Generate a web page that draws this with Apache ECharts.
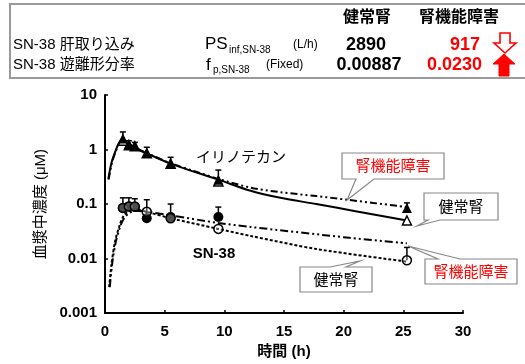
<!DOCTYPE html>
<html><head><meta charset="utf-8">
<script src="https://cdn.jsdelivr.net/npm/echarts@6/dist/echarts.min.js"></script>
<style>html,body{margin:0;padding:0;background:#fff}#c{width:525px;height:364px}</style>
</head><body><div id="c"></div>
<script>
// ---- axis ticks ----
const xTicks = [0, 5, 10, 15, 20, 25, 30];
const yTickLabels = ['0.001', '0.01', '0.1', '1', '10'];

// ---- observed points (h, μM) ----
const obsTimes = [1.5, 2, 2.5, 3.5, 5.5, 9.5, 25.3];
const iriHealthyObs = [1.45, 1.2, 1.15, 0.85, 0.55, 0.26, 0.05];
const iriRenalObs = [1.6, 1.25, 1.17, 0.86, 0.55, 0.28, 0.085];
const iriRenalUpper = [2.1, 1.45, 1.35, 1.1, 0.72, 0.42, 0.105];
const snHealthyObs = [0.085, 0.09, 0.09, 0.072, 0.055, 0.035, 0.0093];
const snHealthyUpper = [null, null, null, null, null, null, 0.016];
const snRenalTimes = [1.5, 2, 2.5, 3.5, 5.5, 9.5];
const snRenalObs = [0.085, 0.09, 0.088, 0.055, 0.058, 0.058];
const snRenalUpper = [0.13, 0.13, 0.125, 0.12, 0.1, 0.088];

// ---- simulated curves ----
const iriHealthyCurveT = [0.28, 0.56, 0.84, 1.12, 1.4, 2, 3, 3.5, 5.5, 7.5, 9.5, 12.2, 14.7, 17.7, 21, 25.3];
const iriHealthyCurveC = [0.29, 0.59, 0.89, 1.26, 1.5, 1.25, 0.95, 0.85, 0.55, 0.39, 0.28, 0.175, 0.13, 0.1, 0.074, 0.05];
const iriRenalCurveT = [0.3, 0.58, 0.86, 1.15, 1.45, 2, 3, 3.5, 5.5, 7.5, 9.5, 12.2, 14.7, 17.7, 20.3, 25.3];
const iriRenalCurveC = [0.28, 0.57, 0.87, 1.22, 1.48, 1.25, 0.96, 0.86, 0.56, 0.4, 0.29, 0.2, 0.165, 0.14, 0.12, 0.088];
const snHealthyCurveT = [0.35, 0.55, 0.85, 1.25, 1.55, 2, 2.5, 3.5, 5.5, 9.5, 12.2, 17.7, 25.3];
const snHealthyCurveC = [0.003, 0.008, 0.021, 0.042, 0.06, 0.075, 0.08, 0.072, 0.055, 0.035, 0.026, 0.015, 0.0088];
const snRenalCurveT = [0.4, 0.6, 0.9, 1.3, 1.6, 2, 2.5, 3.5, 5.5, 9.5, 12.2, 20.5, 25.3];
const snRenalCurveC = [0.003, 0.008, 0.02, 0.04, 0.055, 0.068, 0.075, 0.072, 0.062, 0.045, 0.038, 0.024, 0.019];

const zip = (a, b) => a.map((v, i) => [v, b[i]]);
const zip3 = (a, b, c) => a.map((v, i) => [v, b[i], c[i]]).filter(d => d[2] != null);

const FONT = "'Liberation Sans','Noto Sans CJK JP',sans-serif";
const RED = '#ff0000';

function errBar(params, api) {
  const p0 = api.coord([api.value(0), api.value(1)]);
  const p1 = api.coord([api.value(0), api.value(2)]);
  const st = { stroke: '#000', lineWidth: 1.5 };
  return { type: 'group', children: [
    { type: 'line', shape: { x1: p0[0], y1: p0[1], x2: p1[0], y2: p1[1] }, style: st },
    { type: 'line', shape: { x1: p1[0] - 3, y1: p1[1], x2: p1[0] + 3, y2: p1[1] }, style: st }
  ] };
}

function callout(box, base, tip, text, color) {
  const [x1, y1, x2, y2] = box;
  let pts;
  if (base[2] === 'bottom') {
    pts = [[x1, y1], [x2, y1], [x2, y2], [base[1], y2], tip, [base[0], y2], [x1, y2]];
  } else {
    pts = [[x1, y1], [base[0], y1], tip, [base[1], y1], [x2, y1], [x2, y2], [x1, y2]];
  }
  return [
    { type: 'polygon', z: 50, shape: { points: pts }, style: { fill: '#fff', stroke: '#888', lineWidth: 1.2 } },
    { type: 'text', z: 51, x: (x1 + x2) / 2, y: (y1 + y2) / 2 + 1,
      style: { text: text, fill: color, font: "15px " + FONT, align: 'center', verticalAlign: 'middle' } }
  ];
}

function txt(x, y, text, size, opts) {
  opts = opts || {};
  return { type: 'text', z: 60, x: x, y: y, style: {
    text: text, fill: opts.color || '#000',
    font: (opts.bold ? 'bold ' : '') + size + 'px ' + FONT,
    align: opts.align || 'left', verticalAlign: 'middle' } };
}

const graphics = [
  { type: 'rect', z: 40, shape: { x: 10, y: 4, width: 530, height: 74 }, style: { fill: '#fff', stroke: '#9a9a9a', lineWidth: 2 } },
  txt(367, 18, '健常腎', 16, { bold: true, align: 'center' }),
  txt(459, 18, '腎機能障害', 16, { bold: true, align: 'center' }),
  txt(13, 45, 'SN-38 肝取り込み', 15),
  txt(13, 65, 'SN-38 遊離形分率', 15),
  txt(205, 44, 'PS', 17),
  txt(229, 50, 'inf,SN-38', 10),
  txt(293, 45, '(L/h)', 12),
  txt(206, 65, 'f', 17),
  txt(213, 70, 'p,SN-38', 10),
  txt(266, 65, '(Fixed)', 12),
  txt(366, 45, '2890', 18, { bold: true, align: 'center' }),
  txt(480, 45, '917', 18, { bold: true, align: 'right', color: RED }),
  txt(369, 65, '0.00887', 18, { bold: true, align: 'center' }),
  txt(482, 65, '0.0230', 18, { bold: true, align: 'right', color: RED }),
  { type: 'polygon', z: 60, shape: { points: [[500, 33], [510, 33], [510, 43], [516, 43], [505, 53], [494, 43], [500, 43]] },
    style: { fill: '#fff', stroke: RED, lineWidth: 1.6 } },
  { type: 'polygon', z: 60, shape: { points: [[504, 54], [515, 64], [509, 64], [509, 76], [499, 76], [499, 64], [493, 64]] },
    style: { fill: RED, stroke: RED, lineWidth: 1 } },
  txt(241, 158, 'イリノテカン', 15, { align: 'center' }),
  txt(214, 254, 'SN-38', 15, { bold: true, align: 'center' }),
  ...callout([342, 153, 444, 179], [356, 374, 'bottom'], [347, 200], '腎機能障害', RED),
  ...callout([424, 193, 498, 220], [428, 440, 'bottom'], [417, 226], '健常腎', '#000'),
  ...callout([425, 259, 517, 284], [438, 460, 'top'], [408, 246], '腎機能障害', RED),
  ...callout([300, 267, 372, 292], [330, 346, 'top'], [360, 261], '健常腎', '#000')
];

const chart = echarts.init(document.getElementById('c'), null, { renderer: 'canvas' });
chart.setOption({
  animation: false,
  backgroundColor: '#fff',
  grid: { left: 105, right: 62, top: 95, bottom: 47, containLabel: false },
  xAxis: {
    type: 'value', min: xTicks[0], max: xTicks[xTicks.length - 1], interval: 5,
    name: '時間 (h)', nameLocation: 'middle', nameGap: 30,
    nameTextStyle: { fontFamily: FONT, fontWeight: 'bold', fontSize: 15, color: '#000' },
    axisLine: { lineStyle: { color: '#000', width: 2 } },
    axisTick: { inside: true, length: 3, lineStyle: { color: '#000', width: 1.5 } },
    axisLabel: { margin: 11, fontFamily: FONT, fontWeight: 'bold', fontSize: 15, color: '#000' },
    splitLine: { show: false }
  },
  yAxis: {
    type: 'log', logBase: 10, min: 0.001, max: 10,
    name: '血漿中濃度 (μM)', nameLocation: 'middle', nameGap: 55, nameRotate: 90,
    nameTextStyle: { fontFamily: FONT, fontSize: 15, color: '#000' },
    axisLine: { show: true, lineStyle: { color: '#000', width: 2 } },
    axisTick: { show: true, inside: true, length: 3, lineStyle: { color: '#000', width: 1.5 } },
    axisLabel: { margin: 8, fontFamily: FONT, fontWeight: 'bold', fontSize: 15, color: '#000',
      formatter: v => yTickLabels[Math.round(Math.log10(v)) + 3] },
    splitLine: { show: false }
  },
  graphic: graphics,
  series: [
    { type: 'line', data: zip(iriHealthyCurveT, iriHealthyCurveC), showSymbol: false, smooth: 0.3,
      lineStyle: { color: '#000', width: 2 }, z: 3 },
    { type: 'line', data: zip(iriRenalCurveT, iriRenalCurveC), showSymbol: false, smooth: 0.3,
      lineStyle: { color: '#000', width: 2, type: [7, 3, 2, 3, 2, 3] }, z: 3 },
    { type: 'line', data: zip(snHealthyCurveT, snHealthyCurveC), showSymbol: false, smooth: 0.3,
      lineStyle: { color: '#000', width: 2, type: [3, 2] }, z: 3 },
    { type: 'line', data: zip(snRenalCurveT, snRenalCurveC), showSymbol: false, smooth: 0.3,
      lineStyle: { color: '#000', width: 2, type: [8, 3, 2, 3, 2, 3] }, z: 3 },
    { type: 'custom', renderItem: errBar, data: zip3(obsTimes, iriRenalObs, iriRenalUpper), z: 4 },
    { type: 'custom', renderItem: errBar, data: zip3(obsTimes, snHealthyObs, snHealthyUpper), z: 4 },
    { type: 'custom', renderItem: errBar, data: zip3(snRenalTimes, snRenalObs, snRenalUpper), z: 4 },
    { type: 'scatter', data: zip(obsTimes, iriHealthyObs), symbol: 'triangle', symbolSize: 9,
      itemStyle: { color: '#fff', borderColor: '#000', borderWidth: 1.5, opacity: 1 }, z: 5 },
    { type: 'scatter', data: zip(obsTimes, iriRenalObs), symbol: 'triangle', symbolSize: 10,
      itemStyle: { color: '#000', opacity: 1 }, z: 6 },
    { type: 'scatter', data: zip(snRenalTimes, snRenalObs), symbol: 'circle', symbolSize: 10,
      itemStyle: { color: '#000', opacity: 1 }, z: 5 },
    { type: 'scatter', data: zip(obsTimes, snHealthyObs), symbol: 'circle', symbolSize: 9,
      itemStyle: { color: 'rgba(255,255,255,0.3)', borderColor: '#000', borderWidth: 1.5, opacity: 1 }, z: 6 }
  ]
});
</script></body></html>
